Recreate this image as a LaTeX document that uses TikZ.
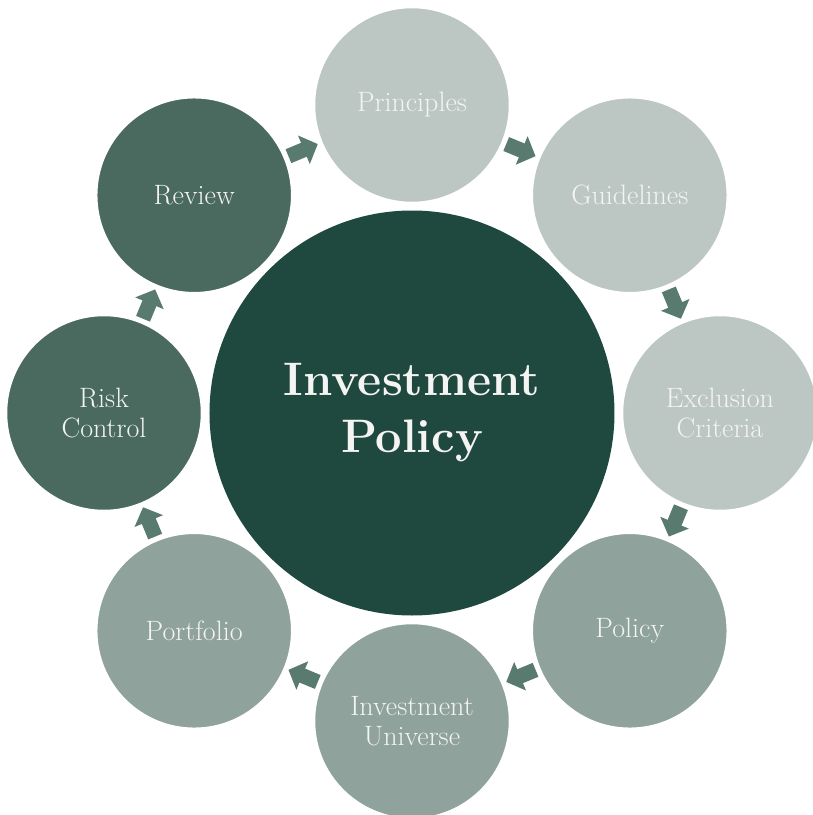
\documentclass[tikz,border=0pt]{standalone}
\usetikzlibrary{arrows.meta}
\definecolor{PolicyDark}{HTML}{1F483E}
\definecolor{StageDark}{HTML}{4A6A60}
\definecolor{StageMid}{HTML}{8FA29C}
\definecolor{StageLight}{HTML}{BCC7C4}
\definecolor{FlowArrow}{HTML}{587A6F}
\definecolor{LabelWhite}{HTML}{F4F4F2}

\begin{document}
\begin{tikzpicture}[x=1pt, y=1pt,
        hub/.style={circle, fill=PolicyDark, minimum size=405pt, inner sep=0pt, text=LabelWhite, align=center, font=\fontsize{47}{57}\selectfont\bfseries},
        stage/.style={circle, draw=white, line width=1.5pt, minimum size=195pt, inner sep=0pt, text=LabelWhite, align=center, font=\fontsize{28}{30}\selectfont},
        flow/.style={-{Triangle[width=30pt, length=15pt]}, line width=15pt, FlowArrow, shorten <=102pt, shorten >=102pt}]

        \useasboundingbox (-412,-402) rectangle (401,413);

        \node[hub] (hub) at (0,0) {Investment\\Policy};

        \node[stage, fill=StageLight] (principles) at (90:308) {Principles};
        \node[stage, fill=StageLight] (guidelines) at (45:308) {Guidelines};
        \node[stage, fill=StageLight] (exclusion) at (0:308) {Exclusion\\Criteria};
        \node[stage, fill=StageMid] (policy) at (-45:308) {Policy};
        \node[stage, fill=StageMid] (universe) at (-90:308) {Investment\\Universe};
        \node[stage, fill=StageMid] (portfolio) at (-135:308) {Portfolio};
        \node[stage, fill=StageDark] (risk) at (180:308) {Risk\\Control};
        \node[stage, fill=StageDark] (review) at (135:308) {Review};

        % block arrows in the gaps, clockwise
        \draw[flow] (principles.center) -- (guidelines.center);
        \draw[flow] (guidelines.center) -- (exclusion.center);
        \draw[flow] (exclusion.center) -- (policy.center);
        \draw[flow] (policy.center) -- (universe.center);
        \draw[flow] (universe.center) -- (portfolio.center);
        \draw[flow] (portfolio.center) -- (risk.center);
        \draw[flow] (risk.center) -- (review.center);
        \draw[flow] (review.center) -- (principles.center);
\end{tikzpicture}
\end{document}
